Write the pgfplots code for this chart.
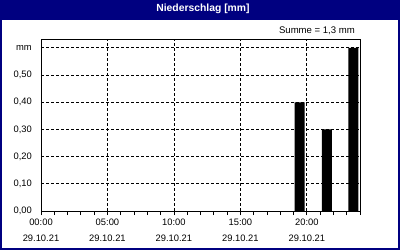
\documentclass[border=0pt]{standalone}
\usepackage{pgfplots}
\pgfplotsset{compat=1.18}
\usepackage{fontspec}
\setmainfont{Liberation Sans}
\definecolor{navy}{RGB}{0,0,128}
\begin{document}
\begin{tikzpicture}[x=1bp,y=1bp]
\useasboundingbox (0,0) rectangle (400,250);
\fill[white] (0,0) rectangle (400,250);
\fill[navy] (0,230) rectangle (400,250);
\draw[navy, line width=2bp] (1,1) rectangle (399,249);
\node[text=white, font=\fontsize{10.4}{12}\selectfont\bfseries, inner sep=0pt] at (203,241.5) {Niederschlag [mm]};
\node[anchor=east, inner sep=0pt, font=\fontsize{9.6}{11}\selectfont] at (355,219) {Summe = 1,3 mm};
\begin{axis}[
  at={(41bp,39bp)}, anchor=south west,
  scale only axis, width=319bp, height=171bp,
  xmin=0, xmax=24, ymin=0, ymax=0.629,
  axis line style={black, line width=1bp},
  xtick={0,5,10,15,20},
  xticklabels={{00:00\\29.10.21},{05:00\\29.10.21},{10:00\\29.10.21},{15:00\\29.10.21},{20:00\\29.10.21}},
  minor xtick={0,1,...,24},
  xtick pos=bottom,
  tick align=outside,
  x tick style={black, line width=0.8bp},
  major tick length=4bp, minor tick length=4bp,
  x tick label style={align=center, font=\fontsize{9.4}{16}\selectfont, inner sep=3.5bp},
  ytick={0,0.1,0.2,0.3,0.4,0.5,0.6},
  yticklabels={{0,00},{0,10},{0,20},{0,30},{0,40},{0,50},{mm}},
  ytick pos=left,
  y tick style={draw=none},
  y tick label style={font=\fontsize{9.4}{11}\selectfont, inner sep=0pt, xshift=-5bp},
  grid=major,
  major grid style={black, dash pattern=on 2.5bp off 2.5bp, line width=0.8bp},
  ybar, bar width=0.75, bar shift=0pt,
]
\addplot[fill=black, draw=none] coordinates {(19.45,0.4) (21.5,0.3) (23.5,0.6)};
\end{axis}
\end{tikzpicture}
\end{document}
